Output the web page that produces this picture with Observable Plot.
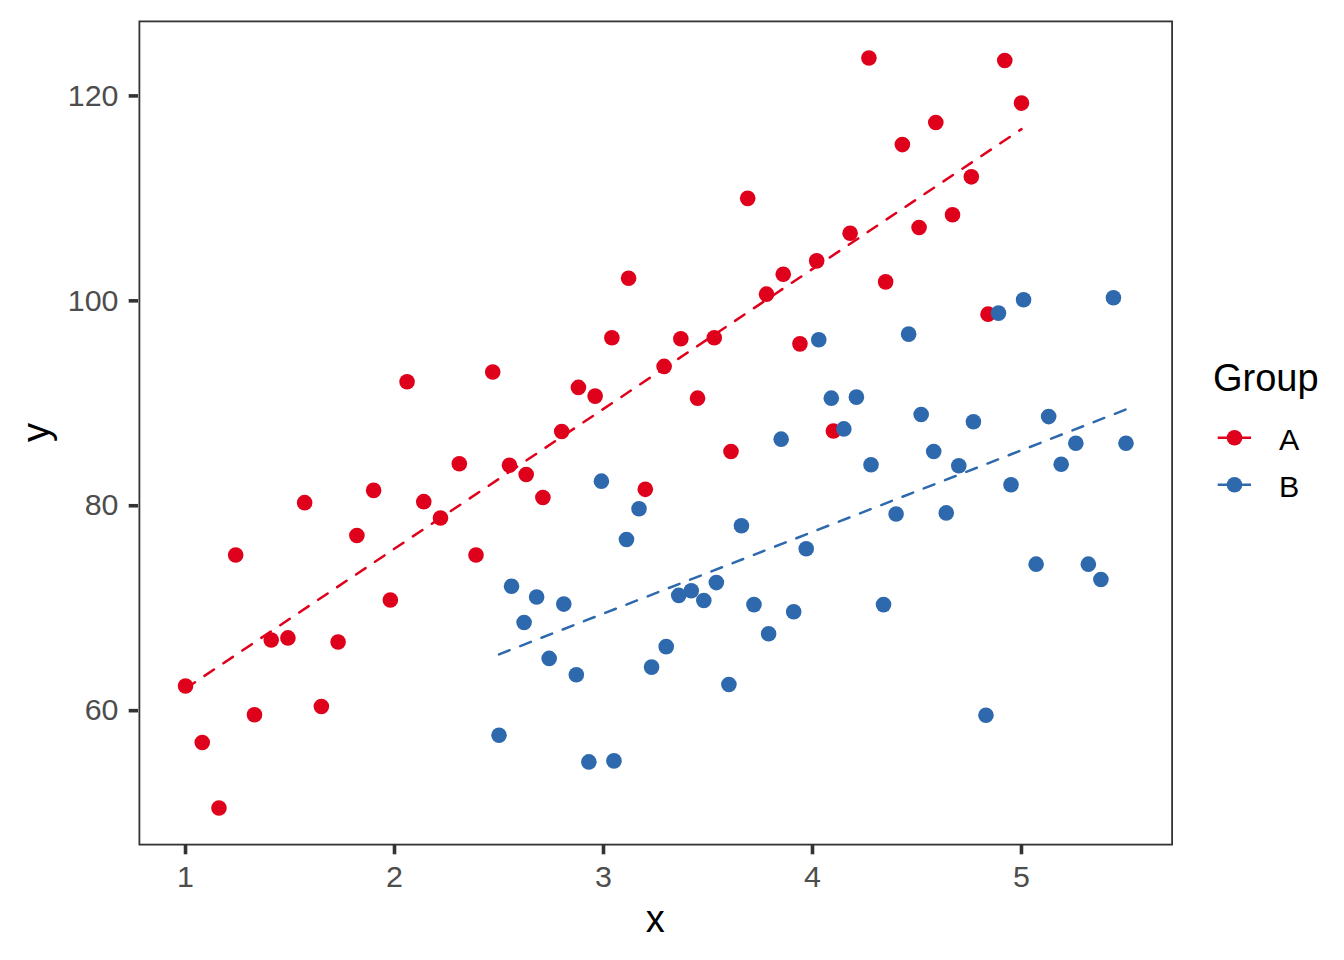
<!DOCTYPE html>
<html>
<head>
<meta charset="utf-8">
<script src="https://cdn.jsdelivr.net/npm/d3@7"></script>
<script src="https://cdn.jsdelivr.net/npm/@observablehq/plot@0.6"></script>
<style>
  html, body { margin: 0; padding: 0; background: #ffffff; }
  #wrap { position: relative; width: 1344px; height: 960px; font-family: "Liberation Sans", Arial, sans-serif; }
  #wrap > svg { position: absolute; left: 0; top: 0; }
  #overlay { pointer-events: none; }
</style>
</head>
<body>
<div id="wrap"></div>
<script>
// ---- data ----
const groups = ["A", "B"];
const groupColors = ["#DF001B", "#2D69AC"];
const xTicks = [1, 2, 3, 4, 5];
const yTicks = [60, 80, 100, 120];

const xA = [1.00, 1.08, 1.16, 1.24, 1.33, 1.41, 1.49, 1.57, 1.65, 1.73,
            1.82, 1.90, 1.98, 2.06, 2.14, 2.22, 2.31, 2.39, 2.47, 2.55,
            2.63, 2.71, 2.80, 2.88, 2.96, 3.04, 3.12, 3.20, 3.29, 3.37,
            3.45, 3.53, 3.61, 3.69, 3.78, 3.86, 3.94, 4.02, 4.10, 4.18,
            4.27, 4.35, 4.43, 4.51, 4.59, 4.67, 4.76, 4.84, 4.92, 5.00];
const yA = [62.4, 56.9, 50.5, 75.2, 59.6, 66.9, 67.1, 80.3, 60.4, 66.7,
            77.1, 81.5, 70.8, 92.1, 80.4, 78.8, 84.1, 75.2, 93.05, 83.95,
            83.05, 80.8, 87.25, 91.55, 90.7, 96.4, 102.2, 81.6, 93.6, 96.3,
            90.5, 96.4, 85.3, 110.0, 100.65, 102.6, 95.8, 103.9, 87.3, 106.6,
            123.7, 101.85, 115.25, 107.15, 117.4, 108.4, 112.1, 98.7, 123.45, 119.3];

const xB = [2.50, 2.56, 2.62, 2.68, 2.74, 2.81, 2.87, 2.93, 2.99, 3.05,
            3.11, 3.17, 3.23, 3.30, 3.36, 3.42, 3.48, 3.54, 3.60, 3.66,
            3.72, 3.79, 3.85, 3.91, 3.97, 4.03, 4.09, 4.15, 4.21, 4.28,
            4.34, 4.40, 4.46, 4.52, 4.58, 4.64, 4.70, 4.77, 4.83, 4.89,
            4.95, 5.01, 5.07, 5.13, 5.19, 5.26, 5.32, 5.38, 5.44, 5.50];
const yB = [57.6, 72.15, 68.6, 71.1, 65.1, 70.4, 63.5, 55.0, 82.4, 55.1,
            76.7, 79.7, 64.25, 66.25, 71.25, 71.7, 70.75, 72.5, 62.55, 78.05,
            70.35, 67.5, 86.5, 69.65, 75.8, 96.2, 90.5, 87.5, 90.6, 84.0,
            70.35, 79.2, 96.75, 88.9, 85.3, 79.3, 83.9, 88.2, 59.55, 98.8,
            82.05, 100.1, 74.3, 88.7, 84.05, 86.1, 74.3, 72.8, 100.3, 86.1];

const xLabel = "x";
const yLabel = "y";
const legendTitle = "Group";

// ---- table for Plot ----
const data = [
  ...xA.map((x, i) => ({x, y: yA[i], group: groups[0]})),
  ...xB.map((x, i) => ({x, y: yB[i], group: groups[1]}))
];
// ggplot-style 5% expansion of the data range
const expand = (vals) => { const [a, b] = d3.extent(vals); const p = (b - a) * 0.05; return [a - p, b + p]; };

const W = 1344, H = 960;
const FONT = "Liberation Sans, Arial, Helvetica, sans-serif";
const ink = "#333333", tickText = "#4D4D4D";

const plot = Plot.plot({
  width: W, height: H,
  marginLeft: 138, marginRight: 171.5, marginTop: 20, marginBottom: 115,
  style: {fontFamily: FONT, background: "#ffffff", overflow: "visible"},
  x: {domain: expand(data.map(d => d.x))},
  y: {domain: expand(data.map(d => d.y))},
  color: {domain: groups, range: groupColors},
  marks: [
    Plot.linearRegressionY(data, {x: "x", y: "y", stroke: "group", ci: 0,
      strokeWidth: 2.5, strokeDasharray: "11.4,11.4"}),
    Plot.dot(data, {x: "x", y: "y", fill: "group", r: 7.8}),
    Plot.frame({stroke: ink, strokeWidth: 1.8, inset: 0.9}),
    Plot.axisX({ticks: xTicks, tickSize: 9.3, tickPadding: 10.7, fontSize: 30.4,
      stroke: ink, strokeWidth: 3.6, fill: tickText, label: null, tickFormat: d => String(d)}),
    Plot.axisY({ticks: yTicks, tickSize: 9.3, tickPadding: 10.7, fontSize: 30.4,
      stroke: ink, strokeWidth: 3.6, fill: tickText, label: null, tickFormat: d => String(d)})
  ]
});

const wrap = document.getElementById("wrap");
wrap.appendChild(plot);

// ---- axis titles and legend (text overlay, positioned from Plot's scales) ----
const xr = plot.scale("x").range, yr = plot.scale("y").range;
const xMid = (xr[0] + xr[1]) / 2, yMid = (yr[0] + yr[1]) / 2;

const svg = d3.select(wrap).append("svg")
  .attr("id", "overlay")
  .attr("width", W).attr("height", H)
  .attr("font-family", FONT);

svg.append("text").text(xLabel)
  .attr("x", xMid).attr("y", 931.7)
  .attr("text-anchor", "middle").attr("font-size", 38).attr("fill", "#000");

svg.append("text").text(yLabel)
  .attr("transform", `translate(49,${yMid}) rotate(-90)`)
  .attr("text-anchor", "middle").attr("font-size", 38).attr("fill", "#000");

const leg = svg.append("g");
leg.append("text").text(legendTitle)
  .attr("x", 1213).attr("y", 391)
  .attr("font-size", 38).attr("fill", "#000");

groups.forEach((g, i) => {
  const cy = 437.7 + i * 47;
  const row = leg.append("g");
  row.append("line")
    .attr("x1", 1217.7).attr("x2", 1251).attr("y1", cy).attr("y2", cy)
    .attr("stroke", groupColors[i]).attr("stroke-width", 2.5);
  row.append("circle")
    .attr("cx", 1234.5).attr("cy", cy).attr("r", 7.8)
    .attr("fill", groupColors[i]);
  row.append("text").text(g)
    .attr("x", 1279).attr("y", cy + 12.3)
    .attr("font-size", 30.4).attr("fill", "#000");
});
</script>
</body>
</html>
